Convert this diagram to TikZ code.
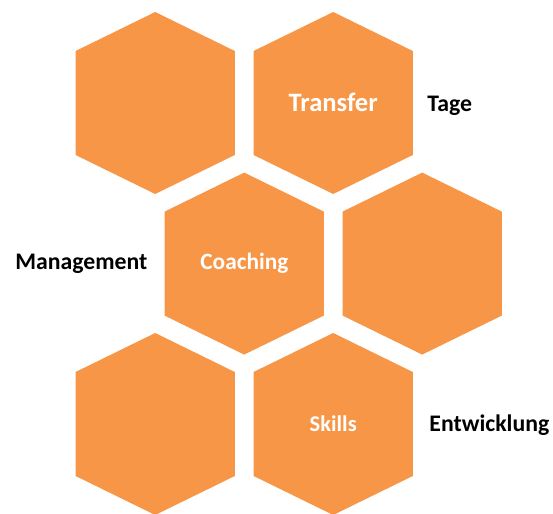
\documentclass[tikz,border=0pt]{standalone}
\usepackage{fontspec}
\setmainfont{Carlito}
\usepackage{tikz}
\usetikzlibrary{positioning}
\definecolor{hexorange}{HTML}{F79646}

\begin{document}
\begin{tikzpicture}[
scale=1,
font=\bfseries,
hexfill/.style={draw=none,fill=hexorange},
intext/.style={text=white,inner sep=0pt,anchor=base},
outtext/.style={text=black,inner sep=0pt,anchor=base west}
]
    \useasboundingbox (0,0) rectangle (13.825,12.85);

    % Draw hexagons
    \foreach \name/\x/\y in {hexA/3.88/10.275, hexB/8.33/10.275,
                             hexC/6.105/6.26, hexD/10.555/6.26,
                             hexE/3.88/2.25, hexF/8.33/2.25}{
        \fill [hexfill] (\x,\y) ++(0,2.275) -- ++(1.99,-0.975) -- ++(0,-2.6)
            -- ++(-1.99,-0.975) -- ++(-1.99,0.975) -- ++(0,2.6) -- cycle;
        \coordinate (\name) at (\x,\y);
    }

    % Texts in the hexagons
    \node[intext, font=\bfseries\fontsize{18.9}{22}\selectfont] (transfer) at (8.33,10.06) {Transfer};
    \node[intext, font=\bfseries\fontsize{16.6}{20}\selectfont] (coaching) at (6.11,6.1) {Coaching};
    \node[intext, font=\bfseries\fontsize{16}{19}\selectfont] (skills) at (8.33,2.06) {Skills};

    % Texts beside
    \node[outtext, font=\bfseries\fontsize{16.9}{20}\selectfont] (tage) at (10.68,10.06) {Tage};
    \node[outtext, font=\bfseries\fontsize{16.9}{20}\selectfont] (management) at (0.375,6.1) {Management};
    \node[outtext, font=\bfseries\fontsize{16.9}{20}\selectfont] (entwicklung) at (10.73,2.06) {Entwicklung};

\end{tikzpicture}
\end{document}
